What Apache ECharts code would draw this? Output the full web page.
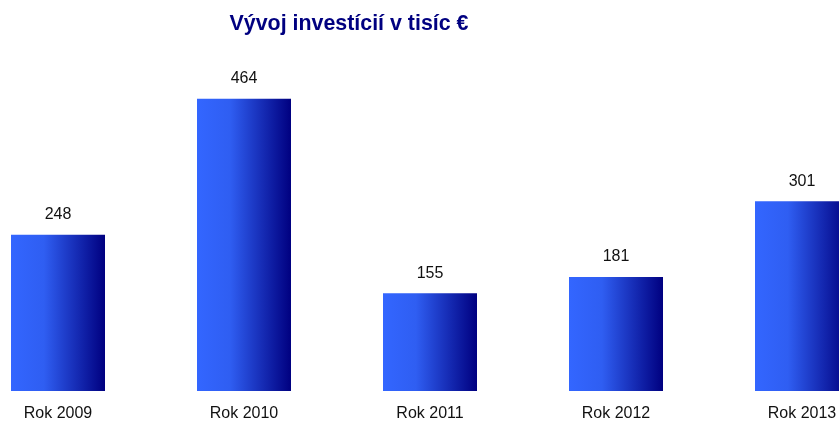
<!DOCTYPE html>
<html>
<head>
<meta charset="utf-8">
<script src="https://cdn.jsdelivr.net/npm/echarts@6/dist/echarts.min.js"></script>
<style>
  html, body { margin: 0; padding: 0; background: #fff; }
  #chart { width: 839px; height: 423px; }
</style>
</head>
<body>
<div id="chart"></div>
<script>
// data
const categories = ['Rok 2009', 'Rok 2010', 'Rok 2011', 'Rok 2012', 'Rok 2013']
const values = [248, 464, 155, 181, 301]

const chart = echarts.init(document.getElementById('chart'))

const barColor = new echarts.graphic.LinearGradient(0, 0, 1, 0, [
  { offset: 0, color: '#3366ff' },
  { offset: 0.35, color: '#2f5ef2' },
  { offset: 1, color: '#000080' }
])

chart.setOption({
  backgroundColor: '#ffffff',
  animation: false,
  title: {
    text: 'Vývoj investícií v tisíc €',
    left: 344,
    textAlign: 'center',
    top: 9,
    textStyle: {
      fontFamily: 'Liberation Sans',
      fontSize: 21.4,
      fontWeight: 'bold',
      color: '#000080'
    }
  },
  grid: {
    left: -35,
    width: 930,
    top: 76,
    bottom: 32,
    outerBoundsMode: 'none'
  },
  xAxis: {
    type: 'category',
    data: categories,
    axisLine: { show: false },
    axisTick: { show: false },
    axisLabel: {
      margin: 15,
      fontFamily: 'Liberation Sans',
      fontSize: 16,
      color: '#111'
    }
  },
  yAxis: {
    type: 'value',
    min: 0,
    max: 500,
    show: false,
    splitLine: { show: false }
  },
  series: [
    {
      type: 'bar',
      data: values,
      barWidth: 94,
      itemStyle: { color: barColor },
      label: {
        show: true,
        position: 'top',
        distance: 12,
        fontFamily: 'Liberation Sans',
        fontSize: 16,
        color: '#111'
      }
    }
  ]
})
</script>
</body>
</html>
